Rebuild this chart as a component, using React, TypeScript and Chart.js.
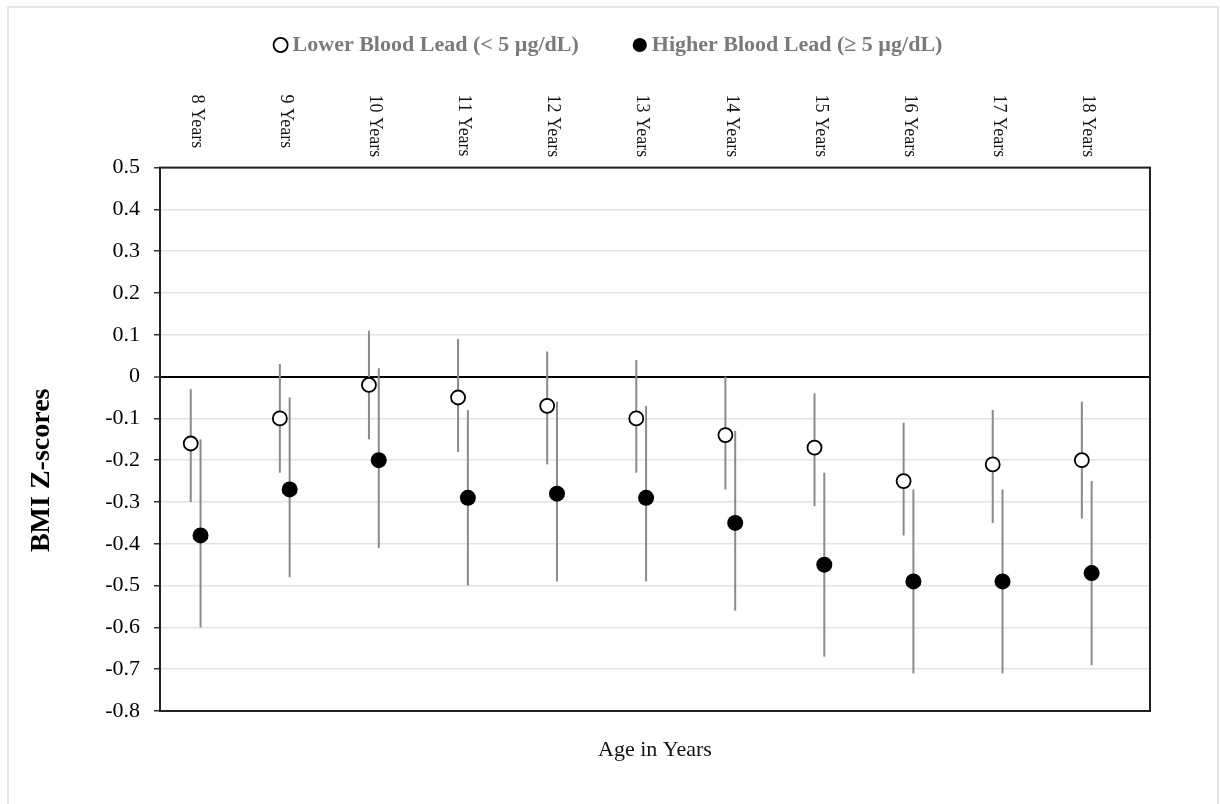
import React, { useEffect, useRef } from "react";
import { Chart, registerables } from "chart.js";

Chart.register(...registerables);

const categories = ["8 Years", "9 Years", "10 Years", "11 Years", "12 Years", "13 Years", "14 Years", "15 Years", "16 Years", "17 Years", "18 Years"];

const lowerMean = [-0.16, -0.10, -0.02, -0.05, -0.07, -0.10, -0.14, -0.17, -0.25, -0.21, -0.20];
const lowerLow = [-0.30, -0.23, -0.15, -0.18, -0.21, -0.23, -0.27, -0.31, -0.38, -0.35, -0.34];
const lowerHigh = [-0.03, 0.03, 0.11, 0.09, 0.06, 0.04, 0.0, -0.04, -0.11, -0.08, -0.06];

const higherMean = [-0.38, -0.27, -0.20, -0.29, -0.28, -0.29, -0.35, -0.45, -0.49, -0.49, -0.47];
const higherLow = [-0.60, -0.48, -0.41, -0.50, -0.49, -0.49, -0.56, -0.67, -0.71, -0.71, -0.69];
const higherHigh = [-0.15, -0.05, 0.02, -0.08, -0.06, -0.07, -0.13, -0.23, -0.27, -0.27, -0.25];

const yTickValues = [0.5, 0.4, 0.3, 0.2, 0.1, 0, -0.1, -0.2, -0.3, -0.4, -0.5, -0.6, -0.7, -0.8];

const seriesLabels = ["Lower Blood Lead (< 5 µg/dL)", "Higher Blood Lead (\u2265 5 µg/dL)"];
const xAxisTitle = "Age in Years";
const yAxisTitle = "BMI Z-scores";

const SERIF = "'Liberation Serif', 'Times New Roman', serif";
const OFFSET = 0.055;
const LEFT_PAD = 72;

const errorBarPlugin = {
  id: "errorBars",
  beforeDatasetsDraw(chart: any) {
    const { ctx, scales } = chart;
    ctx.save();
    ctx.strokeStyle = "#8a8a8a";
    ctx.lineWidth = 2;
    chart.data.datasets.forEach((ds: any) => {
      if (!ds.errLow) return;
      ds.data.forEach((p: any, i: number) => {
        const x = scales.x.getPixelForValue(p.x);
        const y1 = scales.y.getPixelForValue(ds.errLow[i]);
        const y2 = scales.y.getPixelForValue(ds.errHigh[i]);
        ctx.beginPath();
        ctx.moveTo(x, y1);
        ctx.lineTo(x, y2);
        ctx.stroke();
      });
    });
    ctx.restore();
  },
};

const framePlugin = {
  id: "frame",
  afterDatasetsDraw(chart: any) {
    const { ctx, chartArea } = chart;
    ctx.save();
    ctx.strokeStyle = "#222";
    ctx.lineWidth = 2;
    ctx.strokeRect(chartArea.left, chartArea.top, chartArea.right - chartArea.left, chartArea.bottom - chartArea.top);
    ctx.restore();
  },
};

const topLabelsPlugin = {
  id: "topLabels",
  afterDraw(chart: any) {
    const { ctx, chartArea, scales } = chart;
    ctx.save();
    ctx.fillStyle = "#111";
    ctx.font = `18px ${SERIF}`;
    ctx.textAlign = "left";
    ctx.textBaseline = "middle";
    categories.forEach((label, i) => {
      const x = scales.x.getPixelForValue(i) + 1;
      ctx.save();
      ctx.translate(x, chartArea.top - 73);
      ctx.rotate(Math.PI / 2);
      ctx.fillText(label, 0, 0);
      ctx.restore();
    });
    // y axis title
    ctx.save();
    ctx.fillStyle = "#000";
    ctx.font = `bold 28px ${SERIF}`;
    ctx.textAlign = "center";
    ctx.textBaseline = "middle";
    ctx.translate(42, (chartArea.top + chartArea.bottom) / 2 + 31);
    ctx.rotate(-Math.PI / 2);
    ctx.fillText(yAxisTitle, 0, 0);
    ctx.restore();
    ctx.restore();
  },
};

export default function App() {
  const canvasRef = useRef<HTMLCanvasElement | null>(null);

  useEffect(() => {
    if (!canvasRef.current) return;
    const chart = new Chart(canvasRef.current, {
      type: "scatter",
      data: {
        datasets: [
          {
            label: seriesLabels[0],
            data: categories.map((_, i) => ({ x: i - OFFSET, y: lowerMean[i] })),
            errLow: lowerLow,
            errHigh: lowerHigh,
            pointStyle: "circle",
            pointRadius: 7,
            pointBorderWidth: 1.8,
            borderWidth: 1.8,
            borderColor: "#000",
            backgroundColor: "#fff",
            pointBackgroundColor: "#fff",
            pointBorderColor: "#000",
          } as any,
          {
            label: seriesLabels[1],
            data: categories.map((_, i) => ({ x: i + OFFSET, y: higherMean[i] })),
            errLow: higherLow,
            errHigh: higherHigh,
            pointStyle: "circle",
            pointRadius: 8,
            pointBorderWidth: 0,
            borderWidth: 1,
            borderColor: "#000",
            backgroundColor: "#000",
            pointBackgroundColor: "#000",
            pointBorderColor: "#000",
          } as any,
        ],
      },
      options: {
        animation: false,
        responsive: false,
        maintainAspectRatio: false,
        layout: { padding: { top: -26, left: LEFT_PAD, right: 70, bottom: 0 } },
        plugins: {
          tooltip: { enabled: false },
          legend: {
            display: true,
            position: "top",
            labels: {
              usePointStyle: true,
              boxWidth: 2,
              boxHeight: 10,
              padding: 60,
              color: "#7a7a7a",
              font: { family: SERIF, size: 22, weight: "bold" },
            },
          },
        },
        scales: {
          x: {
            type: "linear",
            position: "bottom",
            min: -0.4,
            max: 10.71,
            ticks: { display: false },
            grid: { display: false },
            border: { display: false },
            title: {
              display: true,
              text: xAxisTitle,
              color: "#111",
              font: { family: SERIF, size: 22 },
              padding: { top: 0, bottom: 41 },
            },
            afterFit: (s: any) => {
              s.height = 93;
            },
          },
          xTop: {
            type: "linear",
            position: "top",
            min: -0.4,
            max: 10.71,
            ticks: { display: false },
            grid: { display: false },
            border: { display: false },
            afterFit: (s: any) => {
              s.height = 101.6;
            },
          },
          y: {
            type: "linear",
            min: -0.8,
            max: 0.5,
            afterBuildTicks: (s: any) => {
              s.ticks = yTickValues.map((v) => ({ value: v }));
            },
            afterFit: (s: any) => {
              s.width = 160 - LEFT_PAD;
            },
            ticks: {
              color: "#000",
              padding: 14,
              font: { family: SERIF, size: 22 },
              callback: (v: any) => (Math.abs(Number(v)) < 1e-9 ? "0" : Number(v).toFixed(1)),
            },
            grid: {
              color: (c: any) => (c.tick && Math.abs(c.tick.value) < 1e-9 ? "#000" : "#e3e3e3"),
              lineWidth: (c: any) => (c.tick && Math.abs(c.tick.value) < 1e-9 ? 2 : 1.5),
              tickColor: "#333",
              tickLength: 6,
              tickWidth: 1.5,
            },
            border: { display: true, color: "#222", width: 2 },
          },
        },
      } as any,
      plugins: [errorBarPlugin, framePlugin, topLabelsPlugin],
    });
    return () => chart.destroy();
  }, []);

  return (
    <div style={{ position: "fixed", left: 0, top: 0, width: 1220, height: 804, background: "#fff" }}>
      <div
        style={{
          position: "absolute",
          left: 7,
          top: 6,
          width: 1212,
          height: 830,
          border: "2px solid #e6e6e6",
          boxSizing: "border-box",
        }}
      />
      <canvas ref={canvasRef} width={1220} height={804} style={{ position: "absolute", left: 0, top: 0, width: 1220, height: 804 }} />
    </div>
  );
}
